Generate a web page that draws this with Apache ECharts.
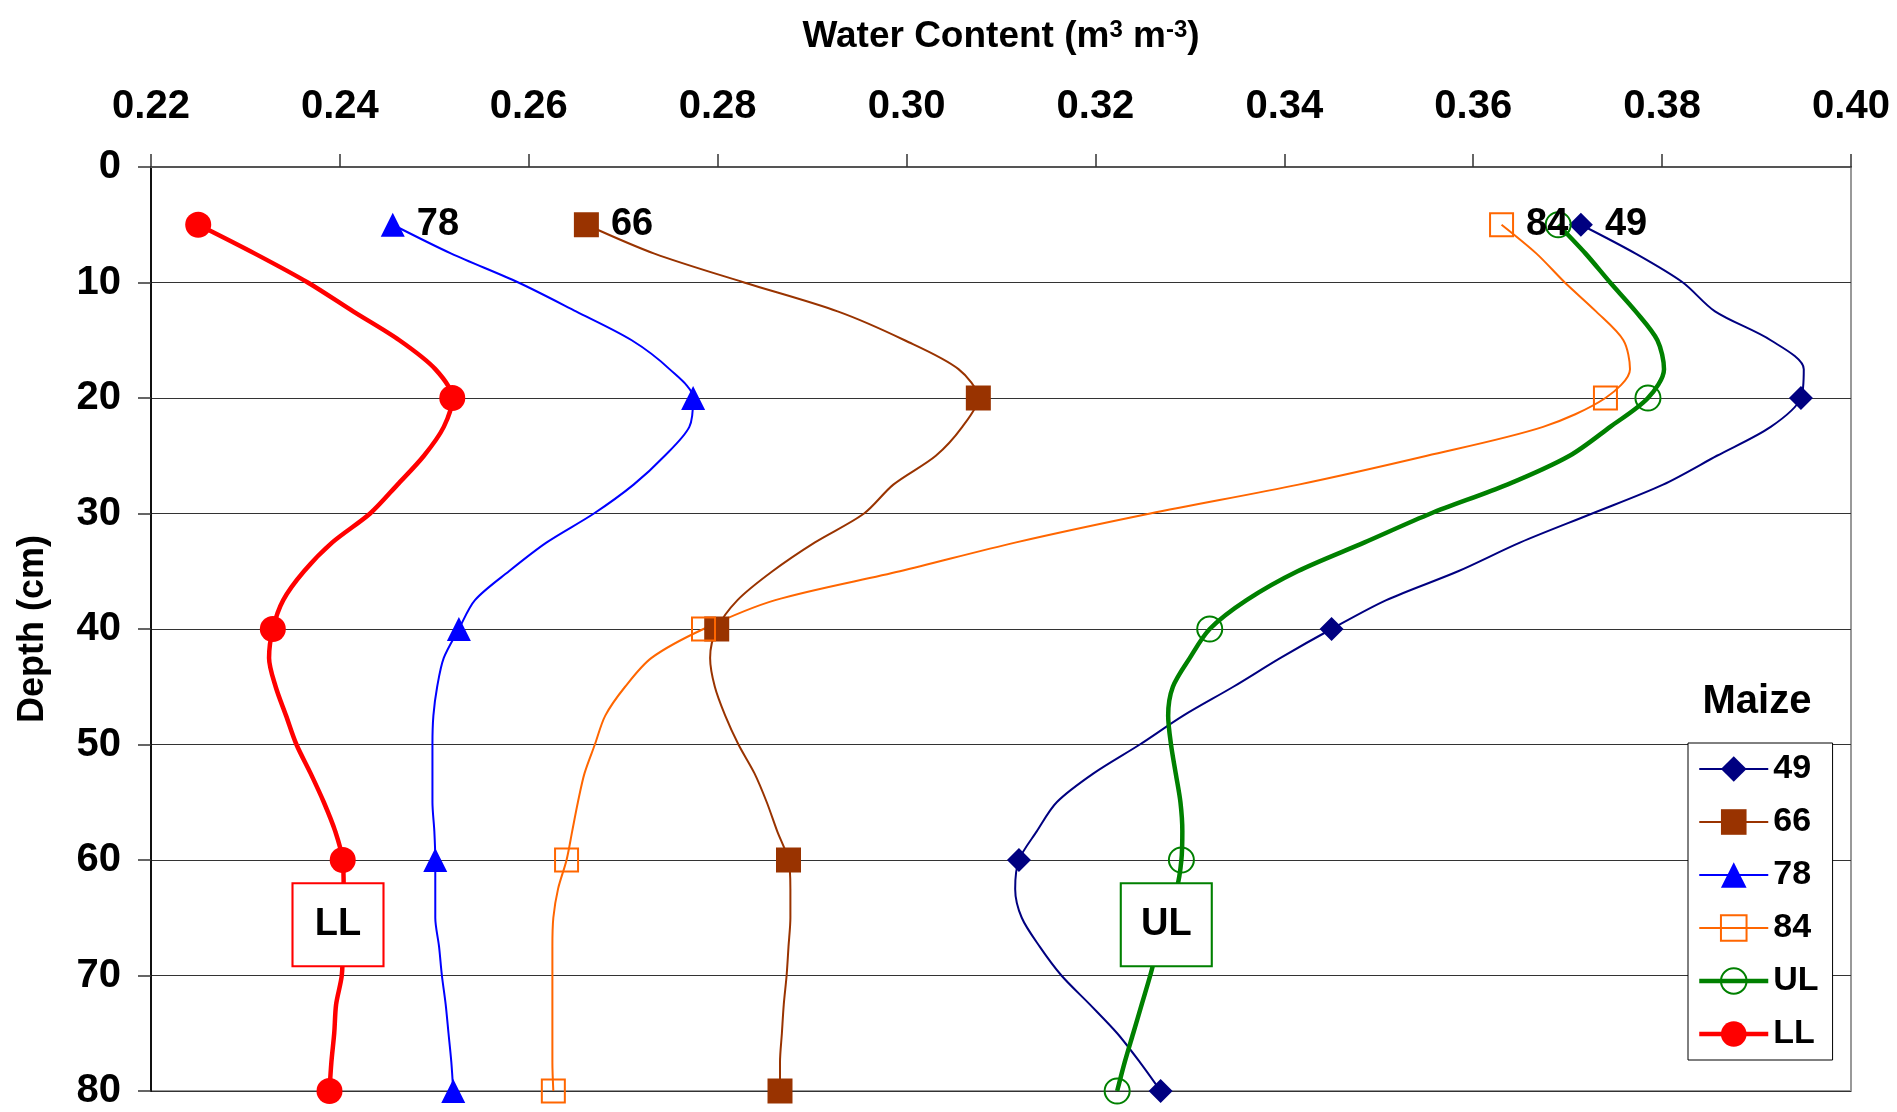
<!DOCTYPE html>
<html>
<head>
<meta charset="utf-8">
<title>Water content profiles - Maize</title>
<script src="https://cdn.jsdelivr.net/npm/echarts@6/dist/echarts.min.js"></script>
<style>
  html, body { margin: 0; padding: 0; background: #fff; }
  #chart { width: 1897px; height: 1112px; }
</style>
</head>
<body>
<div id="chart"></div>
<script>
// depth (cm), read every 2.5 cm off the reference curves
const depths = [5, 7.5, 10, 12.5, 15, 17.5, 20, 22.5, 25, 27.5, 30, 32.5, 35, 37.5, 40,
  42.5, 45, 47.5, 50, 52.5, 55, 57.5, 60, 62.5, 65, 67.5, 70, 72.5, 75, 77.5, 80];
// depths that carry a marker
const markerDepths = [5, 20, 40, 60, 80];

// water content (m3 m-3)
const wc49 = [0.3714, 0.3772, 0.3822, 0.3856, 0.3915, 0.3950, 0.3947, 0.3915, 0.3858, 0.3801, 0.3726,
  0.3650, 0.3584, 0.3508, 0.3450, 0.3396, 0.3346, 0.3293, 0.3247, 0.3198, 0.3159, 0.3138, 0.3119,
  0.3115, 0.3122, 0.3141, 0.3164, 0.3194, 0.3223, 0.3247, 0.3269];
const wc66 = [0.2661, 0.2733, 0.2828, 0.2927, 0.2998, 0.3055, 0.3076, 0.3059, 0.3031, 0.2986, 0.2955,
  0.2903, 0.2858, 0.2821, 0.2799, 0.2792, 0.2797, 0.2808, 0.2822, 0.2839, 0.2852, 0.2863, 0.2875,
  0.2877, 0.2877, 0.2875, 0.2873, 0.2870, 0.2868, 0.2866, 0.2866];
const wc78 = [0.2456, 0.2518, 0.2589, 0.2650, 0.2709, 0.2749, 0.2774, 0.2770, 0.2744, 0.2711, 0.2669,
  0.2619, 0.2579, 0.2543, 0.2526, 0.2510, 0.2503, 0.2499, 0.2498, 0.2498, 0.2498, 0.2500, 0.2501,
  0.2501, 0.2501, 0.2505, 0.2508, 0.2512, 0.2515, 0.2518, 0.2520];
const wc84 = [0.3630, 0.3667, 0.3697, 0.3730, 0.3759, 0.3766, 0.3740, 0.3674, 0.3551, 0.3415, 0.3258,
  0.3116, 0.2993, 0.2861, 0.2785, 0.2730, 0.2702, 0.2681, 0.2670, 0.2659, 0.2652, 0.2646, 0.2640,
  0.2631, 0.2626, 0.2625, 0.2625, 0.2625, 0.2625, 0.2625, 0.2626];
const wcUL = [0.3690, 0.3719, 0.3745, 0.3772, 0.3795, 0.3802, 0.3785, 0.3745, 0.3702, 0.3636, 0.3555,
  0.3485, 0.3414, 0.3360, 0.3321, 0.3300, 0.3282, 0.3277, 0.3280, 0.3285, 0.3290, 0.3292, 0.3291,
  0.3286, 0.3274, 0.3266, 0.3258, 0.3249, 0.3240, 0.3231, 0.3223];
const wcLL = [0.2250, 0.2310, 0.2366, 0.2414, 0.2463, 0.2501, 0.2519, 0.2510, 0.2489, 0.2461, 0.2432,
  0.2392, 0.2362, 0.2340, 0.2329, 0.2325, 0.2332, 0.2343, 0.2354, 0.2369, 0.2383, 0.2395, 0.2403,
  0.2404, 0.2403, 0.2403, 0.2402, 0.2396, 0.2394, 0.2391, 0.2389];

// boxed labels for the limits
const ulBox = [0.3275, 65.6];
const llBox = [0.2398, 65.6];

const FONT = '"Liberation Sans", Arial, sans-serif';
const chart = echarts.init(document.getElementById('chart'));

// build [x, depth] points, only marker depths get a symbol
const buildData = (values, withLabel) => values.map((v, i) => {
  const item = { value: [v, depths[i]] };
  if (markerDepths.indexOf(depths[i]) < 0) item.symbol = 'none';
  if (withLabel && i === 0) {
    item.label = {
      show: true, position: 'right', distance: 12, formatter: '{a}',
      fontFamily: FONT, fontSize: 38, fontWeight: 'bold', color: '#000'
    };
  }
  return item;
});

const makeSeries = (name, values, color, symbol, size, width, hollow, withLabel) => ({
  name: name,
  type: 'line',
  smooth: 0.3,
  symbol: symbol,
  symbolSize: size,
  data: buildData(values, withLabel),
  lineStyle: { color: color, width: width },
  itemStyle: hollow
    ? { color: 'rgba(255,255,255,0)', borderColor: color, borderWidth: 2 }
    : { color: color, borderWidth: 0 },
  emphasis: { disabled: true },
  z: 3
});

const boxMark = (text, coord, color) => ({
  symbol: 'rect',
  symbolSize: [91, 83],
  silent: true,
  data: [{ name: text, coord: coord }],
  itemStyle: { color: '#fff', borderColor: color, borderWidth: 2 },
  label: {
    show: true, position: 'inside', formatter: '{b}',
    fontFamily: FONT, fontSize: 38, fontWeight: 'bold', color: '#000'
  }
});

const sUL = makeSeries('UL', wcUL, '#008000', 'circle', 25, 4.5, true, false);
sUL.markPoint = boxMark('UL', ulBox, '#008000');
const sLL = makeSeries('LL', wcLL, '#ff0000', 'circle', 26, 4.5, false, false);
sLL.markPoint = boxMark('LL', llBox, '#ff0000');

chart.setOption({
  animation: false,
  backgroundColor: '#fff',
  title: {
    text: 'Maize', left: 1752, top: 697, textAlign: 'center', textVerticalAlign: 'middle',
    textStyle: { fontFamily: FONT, fontSize: 40, fontWeight: 'bold', color: '#000' }
  },
  grid: {
    left: 151, top: 167, width: 1700, height: 924,
    show: true, borderColor: '#999', borderWidth: 2, backgroundColor: '#fff'
  },
  legend: {
    orient: 'vertical', left: 1688, top: 743,
    padding: [9, 14, 9, 9], itemGap: 19, itemWidth: 69, itemHeight: 32,
    borderColor: '#000', borderWidth: 1, backgroundColor: '#fff',
    textStyle: { fontFamily: FONT, fontSize: 34, fontWeight: 'bold', color: '#000', lineHeight: 34 },
    data: [
      { name: '49' },
      { name: '66' },
      { name: '78' },
      { name: '84' },
      { name: 'UL', lineStyle: { width: 4.5 } },
      { name: 'LL', lineStyle: { width: 4.5 } }
    ]
  },
  xAxis: {
    type: 'value', position: 'top', min: 0.22, max: 0.40, interval: 0.02,
    name: 'Water Content (m{sup|3} m{sup|-3})',
    nameLocation: 'middle', nameGap: 112,
    nameTextStyle: {
      fontFamily: FONT, fontSize: 37, fontWeight: 'bold', color: '#000',
      rich: { sup: { fontFamily: FONT, fontSize: 24, fontWeight: 'bold', color: '#000', verticalAlign: 'top' } }
    },
    axisLine: { show: true, lineStyle: { color: '#555', width: 2 } },
    axisTick: { show: true, inside: false, length: 13, lineStyle: { color: '#333', width: 1.5 } },
    axisLabel: {
      margin: 40, formatter: v => v.toFixed(2),
      fontFamily: FONT, fontSize: 40, fontWeight: 'bold', color: '#000'
    },
    splitLine: { show: false }
  },
  yAxis: {
    type: 'value', inverse: true, min: 0, max: 80, interval: 10,
    name: 'Depth (cm)', nameLocation: 'middle', nameGap: 100, nameRotate: 90,
    nameTextStyle: { fontFamily: FONT, fontSize: 36, fontWeight: 'bold', color: '#000' },
    axisLine: { show: true, lineStyle: { color: '#111', width: 2 } },
    axisTick: { show: true, inside: false, length: 13, lineStyle: { color: '#333', width: 1.5 } },
    axisLabel: { margin: 30, fontFamily: FONT, fontSize: 40, fontWeight: 'bold', color: '#000' },
    splitLine: { show: true, lineStyle: { color: '#333', width: 1.2 } }
  },
  series: [
    makeSeries('49', wc49, '#000080', 'diamond', 24, 2, false, true),
    makeSeries('66', wc66, '#993300', 'rect', 25, 2, false, true),
    makeSeries('78', wc78, '#0000ff', 'triangle', 24, 2, false, true),
    makeSeries('84', wc84, '#ff6600', 'rect', 23, 2, true, true),
    sUL,
    sLL
  ]
});

window.addEventListener('resize', () => chart.resize());
</script>
</body>
</html>
